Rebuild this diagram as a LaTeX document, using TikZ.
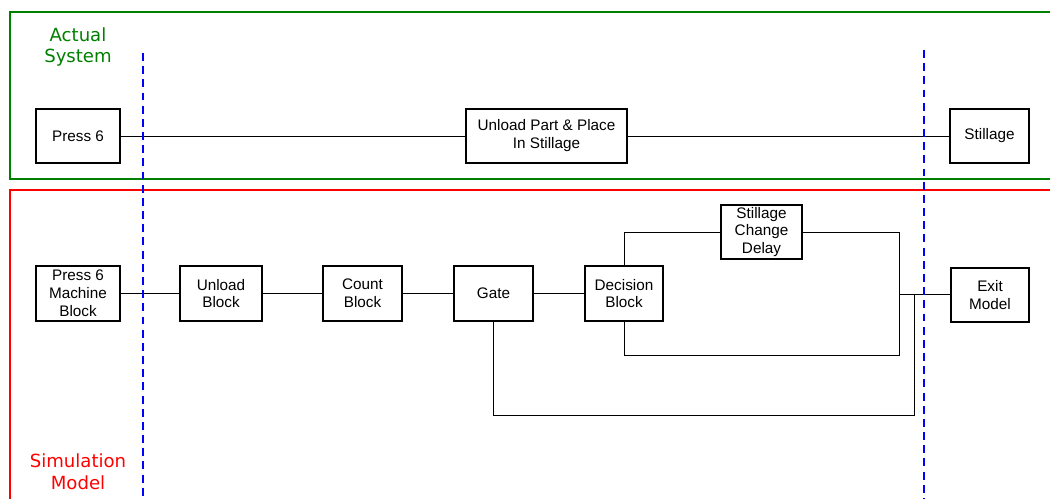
\documentclass[tikz,border=0pt]{standalone}
\usepackage{fontspec}
\setmainfont{Liberation Sans}
\newfontfamily\titlefont{DejaVu Sans}
\begin{document}
\begin{tikzpicture}[x=0.02cm,y=-0.02cm,
  blk/.style={draw, line width=0.6pt, fill=white, inner sep=0pt, align=center,
    font=\fontsize{8.7}{10.2}\selectfont},
  conn/.style={line width=0.55pt},
  sep/.style={blue, dashed, line width=0.8pt, dash pattern=on 4.5pt off 3pt},
  ttl/.style={align=center, font=\titlefont\fontsize{10.3}{12.5}\selectfont}]
\useasboundingbox (0,0) rectangle (1050,499);
% frames
\draw[green!50!black, line width=1.2pt] (1060,12) -- (10,12) -- (10,179) -- (1060,179);
\draw[red, line width=1.2pt] (1060,190) -- (10,190) -- (10,510);
\node[ttl, text=green!50!black] (tA) at (78,47) {Actual\\System};
\node[ttl, text=red] (tS) at (78,472) {Simulation\\Model};
% actual system
\node[blk, minimum width=84*0.02cm, minimum height=54*0.02cm] (p6) at (78,136) {Press 6};
\node[blk, minimum width=161*0.02cm, minimum height=54*0.02cm] (up) at (546.5,136) {Unload Part \& Place\\In Stillage};
\node[blk, minimum width=79*0.02cm, minimum height=54*0.02cm] (st) at (989.5,136) {Stillage};
\draw[conn] (p6) -- (up);
\draw[conn] (up) -- (st);
% simulation
\node[blk, minimum width=84*0.02cm, minimum height=55*0.02cm] (pm) at (78,293.5) {Press 6\\Machine\\Block};
\node[blk, minimum width=82*0.02cm, minimum height=55*0.02cm] (ub) at (221,293.5) {Unload\\Block};
\node[blk, minimum width=79*0.02cm, minimum height=55*0.02cm] (cb) at (362.5,293.5) {Count\\Block};
\node[blk, minimum width=79*0.02cm, minimum height=55*0.02cm] (gt) at (493.5,293.5) {Gate};
\node[blk, minimum width=78*0.02cm, minimum height=55*0.02cm] (db) at (624,293.5) {Decision\\Block};
\node[blk, minimum width=81*0.02cm, minimum height=54*0.02cm] (sd) at (761.5,232) {Stillage\\Change\\Delay};
\node[blk, minimum width=78*0.02cm, minimum height=54*0.02cm] (em) at (990,295) {Exit\\Model};
\coordinate (j1) at (899,294);
\coordinate (j2) at (914,294);
\draw[conn] (pm) -- (ub);
\draw[conn] (ub) -- (cb);
\draw[conn] (cb) -- (gt);
\draw[conn] (gt) -- (db);
\draw[conn] (db.north) |- (sd.west);
\draw[conn] (sd.east) -| (j1);
\draw[conn] (db.south) -- (624,355) -| (j1);
\draw[conn] (gt.south) -- (493.5,415) -| (j2);
\draw[conn] (j1) -- (em.west |- j1);
% separators
\draw[sep] (143,53) -- (143,499);
\draw[sep] (924,50) -- (924,499);
\end{tikzpicture}
\end{document}
